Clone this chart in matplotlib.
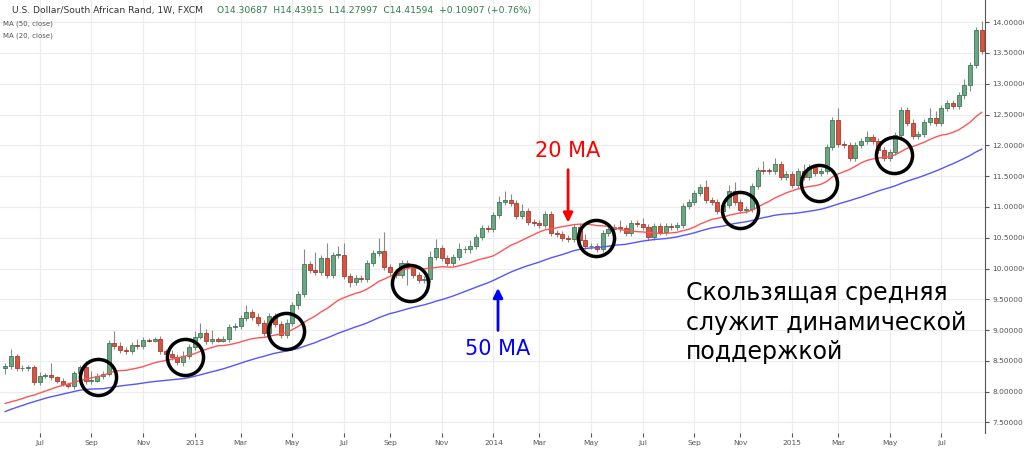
"""USD/ZAR weekly candles with 20 and 50 week moving averages."""

import matplotlib
matplotlib.use("Agg")
import matplotlib.pyplot as plt
import numpy as np
import pandas as pd

# closes, week by week (starting 2012-05-20)
closes = [
    8.42, 8.58, 8.38, 8.38, 8.40, 8.16, 8.25, 8.27, 8.24, 8.17,
    8.13, 8.09, 8.30, 8.40, 8.17, 8.18, 8.25, 8.29, 8.79, 8.75,
    8.68, 8.66, 8.76, 8.74, 8.84, 8.83, 8.86, 8.66, 8.62, 8.57,
    8.49, 8.58, 8.73, 8.89, 8.96, 8.83, 8.85, 8.83, 8.85, 9.05,
    9.06, 9.19, 9.30, 9.22, 9.11, 8.96, 9.23, 9.10, 8.92, 9.11,
    9.40, 9.58, 10.07, 9.97, 9.95, 10.17, 9.89, 10.22,
    10.22, 9.88, 9.78, 9.84, 9.83, 10.09, 10.25, 10.29, 10.02, 9.95,
    9.89, 10.09, 10.03, 9.89, 9.81, 9.83, 10.19, 10.33, 10.17, 10.09,
    10.19, 10.31, 10.31, 10.36, 10.51, 10.66, 10.64, 10.87, 11.08, 11.11,
    11.06, 10.85, 10.94, 10.76, 10.74, 10.70, 10.89, 10.58, 10.56, 10.49,
    10.48, 10.67, 10.46, 10.36, 10.37, 10.32, 10.58, 10.64, 10.68, 10.65,
    10.58, 10.74, 10.72, 10.68, 10.51, 10.69,
    10.59, 10.69, 10.67, 10.70, 11.01, 11.08, 11.22, 11.33, 11.11, 11.08,
    10.94, 11.03, 11.26, 11.08, 10.95, 10.97, 11.34, 11.60, 11.59, 11.58,
    11.69, 11.49, 11.54, 11.35, 11.59, 11.49, 11.65, 11.55, 11.58, 11.97,
    12.41, 12.02, 12.00, 11.79, 12.00, 12.07, 12.13, 12.07, 11.92, 11.79,
    11.89, 12.17, 12.57, 12.37, 12.15, 12.19, 12.38, 12.45, 12.36, 12.60,
    12.68, 12.64, 12.81, 12.98, 13.30, 13.87, 13.53,
]
# weekly closes before the visible window, used only to start the averages
warmup_closes = [
    6.75, 6.80, 6.85, 6.78, 6.72, 6.80, 6.90, 7.05, 7.10, 7.00, 7.05, 7.20, 7.40,
    7.60, 7.85, 8.05, 8.20, 8.05, 7.95, 8.00, 8.10, 8.15, 8.25, 8.10, 8.15, 8.30,
    8.20, 8.15, 8.10, 8.08,
    8.05, 7.90, 7.80, 7.75, 7.70, 7.60, 7.65, 7.55, 7.50, 7.60, 7.65, 7.75, 7.80,
    7.72, 7.80, 7.85, 7.90, 8.05, 8.15,
]
first_open = 8.38
# wick lengths above/below the body
upper_wicks = [
    0.05, 0.12, 0.03, 0.05, 0.04, 0.03, 0.07, 0.03, 0.20, 0.02,
    0.05, 0.03, 0.03, 0.03, 0.10, 0.15, 0.05, 0.04, 0.05, 0.20,
    0.05, 0.05, 0.05, 0.10, 0.05, 0.03, 0.03, 0.05, 0.03, 0.05,
    0.05, 0.08, 0.05, 0.10, 0.15, 0.05, 0.15, 0.03, 0.05, 0.05,
    0.05, 0.05, 0.10, 0.05, 0.05, 0.05, 0.05, 0.05, 0.05, 0.07,
    0.05, 0.05, 0.25, 0.05, 0.30, 0.05, 0.25, 0.05,
    0.15, 0.20, 0.05, 0.05, 0.05, 0.05, 0.05, 0.20, 0.30, 0.05,
    0.05, 0.05, 0.05, 0.05, 0.05, 0.05, 0.10, 0.15, 0.05, 0.05,
    0.05, 0.10, 0.05, 0.10, 0.05, 0.05, 0.05, 0.05, 0.10, 0.15,
    0.10, 0.05, 0.10, 0.05, 0.05, 0.05, 0.05, 0.05, 0.05, 0.05,
    0.05, 0.05, 0.05, 0.10, 0.05, 0.05, 0.05, 0.10, 0.05, 0.10,
    0.05, 0.05, 0.05, 0.10, 0.05, 0.05,
    0.05, 0.05, 0.05, 0.05, 0.05, 0.05, 0.05, 0.05, 0.10, 0.05,
    0.05, 0.05, 0.10, 0.15, 0.05, 0.05, 0.05, 0.05, 0.15, 0.05,
    0.10, 0.05, 0.05, 0.05, 0.05, 0.10, 0.05, 0.05, 0.05, 0.05,
    0.05, 0.20, 0.05, 0.05, 0.05, 0.05, 0.10, 0.05, 0.05, 0.05,
    0.05, 0.05, 0.05, 0.05, 0.05, 0.05, 0.05, 0.15, 0.10, 0.05,
    0.05, 0.05, 0.05, 0.10, 0.05, 0.05, 0.15,
]
lower_wicks = [
    0.10, 0.05, 0.05, 0.05, 0.05, 0.05, 0.05, 0.03, 0.05, 0.03,
    0.03, 0.03, 0.05, 0.05, 0.05, 0.05, 0.03, 0.05, 0.03, 0.05,
    0.05, 0.05, 0.05, 0.05, 0.05, 0.03, 0.03, 0.05, 0.03, 0.05,
    0.05, 0.07, 0.05, 0.05, 0.03, 0.05, 0.05, 0.03, 0.03, 0.05,
    0.05, 0.05, 0.05, 0.05, 0.05, 0.05, 0.05, 0.05, 0.05, 0.05,
    0.05, 0.05, 0.05, 0.05, 0.05, 0.05, 0.05, 0.05,
    0.05, 0.05, 0.08, 0.05, 0.05, 0.05, 0.05, 0.05, 0.05, 0.05,
    0.05, 0.05, 0.30, 0.05, 0.05, 0.05, 0.05, 0.05, 0.05, 0.05,
    0.05, 0.05, 0.05, 0.05, 0.05, 0.05, 0.05, 0.05, 0.05, 0.05,
    0.05, 0.05, 0.05, 0.05, 0.05, 0.05, 0.05, 0.05, 0.05, 0.05,
    0.05, 0.05, 0.10, 0.05, 0.05, 0.05, 0.05, 0.05, 0.05, 0.05,
    0.05, 0.05, 0.05, 0.05, 0.05, 0.05,
    0.05, 0.05, 0.05, 0.05, 0.05, 0.05, 0.05, 0.05, 0.05, 0.05,
    0.05, 0.05, 0.05, 0.05, 0.05, 0.05, 0.05, 0.05, 0.05, 0.05,
    0.05, 0.05, 0.05, 0.05, 0.05, 0.05, 0.05, 0.05, 0.05, 0.05,
    0.05, 0.05, 0.05, 0.05, 0.05, 0.05, 0.05, 0.05, 0.05, 0.05,
    0.05, 0.05, 0.05, 0.05, 0.05, 0.05, 0.05, 0.05, 0.05, 0.05,
    0.05, 0.05, 0.05, 0.05, 0.10, 0.05, 0.05,
]
start_week = "2012-05-20"
y_ticks = [7.5, 8.0, 8.5, 9.0, 9.5, 10.0, 10.5, 11.0, 11.5, 12.0, 12.5, 13.0, 13.5, 14.0]
circle_weeks = [16.2, 31.3, 48.9, 70.4, 102.8, 128.0, 141.6, 154.8]
circle_prices = [8.24, 8.56, 8.98, 9.76, 10.49, 10.95, 11.39, 11.84]
note_text = "Скользящая средняя\nслужит динамической\nподдержкой"

UP, DOWN = "#6ba583", "#d75442"
UP_EDGE, DOWN_EDGE = "#3d7a55", "#a83a2b"

n = len(closes)
x = np.arange(n)
close = np.array(closes)
opens = np.r_[first_open, close[:-1]]
highs = np.maximum(opens, close) + np.array(upper_wicks[:n])
lows = np.minimum(opens, close) - np.array(lower_wicks[:n])

full = pd.Series(warmup_closes + closes)
ma20 = full.rolling(20).mean().to_numpy()[len(warmup_closes):]
ma50 = full.rolling(50).mean().to_numpy()[len(warmup_closes):]

weeks = pd.date_range(start_week, periods=n, freq="7D")

fig = plt.figure(figsize=(10.24, 4.51), dpi=100)
ax = fig.add_axes([0, 0.04, 0.962, 0.96])

for i in range(n):
    up = close[i] >= opens[i]
    ax.vlines(x[i], lows[i], highs[i], color="#8a8a8a", lw=0.8, zorder=2)
    body = max(abs(close[i] - opens[i]), 0.012)
    ax.bar(x[i], body, bottom=min(opens[i], close[i]), width=0.7,
           color=UP if up else DOWN, edgecolor=UP_EDGE if up else DOWN_EDGE,
           lw=0.6, zorder=3)

ax.plot(x, ma20, color="#ff5555", lw=1.0, zorder=4)
ax.plot(x, ma50, color="#5555ff", lw=1.0, zorder=4)

ax.plot(circle_weeks, circle_prices, "o", ms=26, mfc="none", mec="black",
        mew=2.5, zorder=5)

# month ticks every two months
tick_pos, tick_lab = [], []
for m in pd.date_range("2012-07-01", "2015-09-01", freq="2MS"):
    pos = np.searchsorted(weeks, m)
    tick_pos.append(pos)
    tick_lab.append(str(m.year) if m.month == 1 else m.strftime("%b")[:3])
tick_lab[-1] = "Se"
ax.set_xticks(tick_pos, tick_lab)
ax.set_yticks(y_ticks, [f"{v:.5f}" for v in y_ticks])
ax.yaxis.tick_right()
ax.tick_params(labelsize=5.3, colors="#555555", length=3, pad=2)
ax.grid(color="#ececec", lw=0.8, zorder=0)
ax.set_axisbelow(True)
ax.set_xlim(-0.9, n - 0.4)
ax.set_ylim(7.33, 14.36)
for side in ("top", "left", "bottom"):
    ax.spines[side].set_visible(False)
ax.spines["right"].set_color("#555555")

ax.annotate("", xy=(98.0, 10.70), xytext=(98.0, 11.65),
            arrowprops=dict(arrowstyle="-|>", color="red", lw=2, mutation_scale=14))
ax.text(98.0, 11.75, "20 MA", color="red", fontsize=15, ha="center", va="bottom")
ax.annotate("", xy=(85.8, 9.73), xytext=(85.8, 8.95),
            arrowprops=dict(arrowstyle="-|>", color="blue", lw=2, mutation_scale=14))
ax.text(85.8, 8.85, "50 MA", color="blue", fontsize=15, ha="center", va="top")
ax.text(118.5, 9.80, note_text, fontsize=17, va="top", ha="left", linespacing=1.3)

ax.text(0.012, 0.975, "U.S. Dollar/South African Rand, 1W, FXCM",
        transform=ax.transAxes, fontsize=6.6, color="#333333", va="center")
ax.text(0.22, 0.975, "O14.30687  H14.43915  L14.27997  C14.41594  +0.10907 (+0.76%)",
        transform=ax.transAxes, fontsize=6.6, color="#2e7d4f", va="center")
ax.text(0.003, 0.945, "MA (50, close)", transform=ax.transAxes, fontsize=5, color="#555555", va="center")
ax.text(0.003, 0.918, "MA (20, close)", transform=ax.transAxes, fontsize=5, color="#555555", va="center")

fig.savefig("out.png", dpi=100)
